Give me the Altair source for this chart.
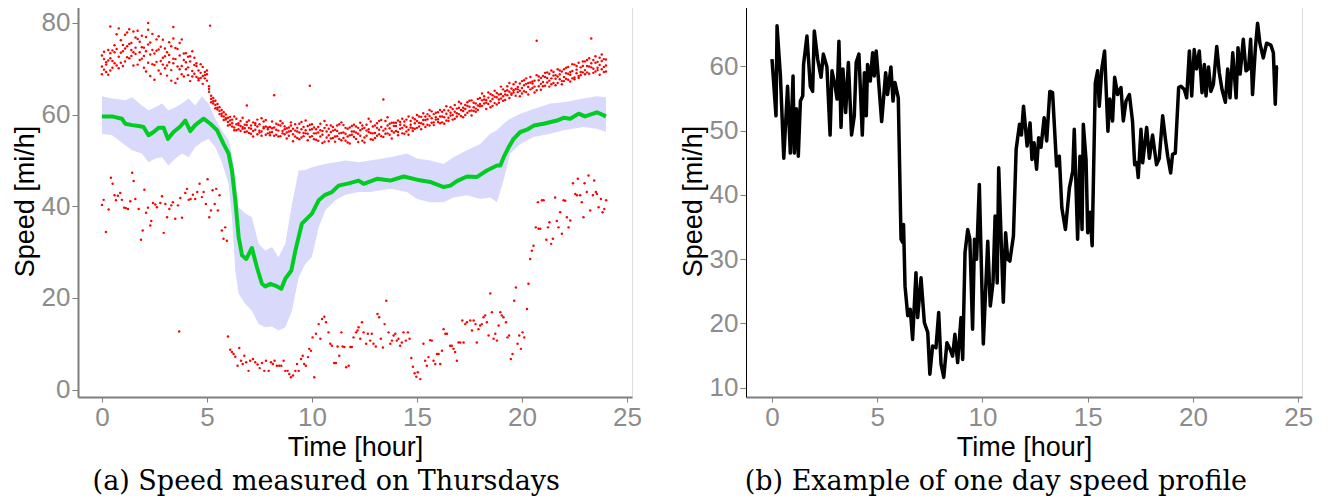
import altair as alt
import pandas as pd

# ---------------- Panel (a): mean speed, band, outliers ----------------
mean_time = [0.0,0.48,0.95,1.11,1.43,1.75,1.98,2.22,2.46,2.70,2.94,3.14,3.41,3.73,3.97,4.21,4.44,4.84,5.16,5.48,5.79,6.03,6.19,6.35,6.51,6.67,6.87,7.14,7.38,7.62,7.78,8.02,8.25,8.54,8.73,9.02,9.21,9.52,10.0,10.32,10.63,10.95,11.27,11.75,12.22,12.46,13.1,13.73,14.37,15.0,15.63,16.27,16.59,16.9,17.38,17.86,18.33,18.81,18.97,19.13,19.37,19.6,19.92,20.24,20.56,21.03,21.67,21.98,22.3,22.7,23.0,23.57,24.0]
mean_speed = [59.6,59.6,59.1,58.0,57.7,57.5,57.3,55.5,56.2,57.1,57.1,54.7,56.2,57.4,58.7,56.4,57.7,59.1,58.0,56.6,53.6,51.5,47.8,41.3,33.3,29.3,28.5,30.9,26.7,23.1,22.5,23.1,22.7,22.0,24.2,26.0,30.3,36.2,38.4,41.3,42.5,43.1,44.5,45.0,45.6,44.9,46.0,45.6,46.5,45.8,45.3,44.2,44.5,45.5,46.5,46.4,47.8,48.9,48.9,50.7,52.9,54.7,56.2,56.7,57.6,58.0,58.7,59.3,59.1,60.2,59.6,60.5,59.6]

band_time = [0.0,0.48,1.11,1.43,1.90,2.22,2.54,2.86,3.17,3.49,3.81,4.13,4.44,4.76,5.08,5.40,5.71,6.03,6.19,6.35,6.51,6.83,7.14,7.46,7.78,8.10,8.41,8.73,9.05,9.37,9.68,10.0,10.32,10.63,11.11,11.59,12.22,12.77,13.73,14.52,15.0,15.63,16.27,16.74,17.38,18.01,18.49,18.81,19.12,19.44,19.92,20.55,21.35,21.98,22.93,23.57,24.0]
band_high = [64.0,63.5,63.1,63.8,62.0,60.9,61.6,62.4,60.9,61.6,62.4,63.5,62.0,64.0,62.4,59.1,56.6,54.4,51.5,46.4,39.8,38.4,37.6,31.8,30.3,31.1,28.9,31.8,40.5,47.8,47.9,48.5,48.9,49.2,49.6,50.0,49.6,50.0,50.7,51.5,50.4,50.0,49.2,50.7,52.2,53.6,55.8,56.6,58.0,59.1,60.2,61.2,62.4,62.7,63.5,64.0,63.8]
band_low = [55.8,55.5,53.3,52.2,51.5,49.6,50.4,50.7,48.9,50.4,51.5,50.7,52.9,54.0,54.7,52.9,49.6,44.9,37.6,26.0,20.9,18.7,17.2,14.3,13.6,13.8,12.9,13.6,17.2,24.6,27.4,29.0,35.4,39.1,41.3,42.5,43.1,43.1,43.8,43.1,41.6,40.9,40.9,41.9,42.4,41.6,41.9,40.9,45.6,51.5,53.6,55.1,55.8,56.6,57.3,56.9,56.2]

# upper outliers, one value per 0.1 h in each of three rows
upper_time = [round(i * 0.1, 1) for i in range(241)]
upper_a = [70.5,72.1,69.3,71.8,73.4,70.2,75.1,74.3,72.6,76.2,
           73.8,77.4,74.9,72.3,75.6,78.1,73.2,76.5,71.9,74.7,
           72.8,69.4,75.3,73.1,77.6,70.8,71.5,74.2,68.9,72.4,
           70.1,73.6,75.8,69.7,71.2,74.5,67.8,72.9,70.6,73.3,
           71.4,68.6,72.7,69.5,70.8,68.2,67.5,69.1,68.4,67.9,
           68.8,65.6,63.4,62.9,62.1,61.5,60.8,60.2,59.6,58.9,
           58.4,57.8,58.9,57.2,56.6,58.1,57.5,56.9,57.8,56.3,
           57.1,55.8,58.3,56.7,57.4,56.1,59.2,57.0,55.6,56.8,
           57.3,56.2,55.4,58.0,56.5,57.6,55.9,56.8,54.8,57.2,
           56.4,55.7,57.9,54.9,56.1,58.4,55.3,56.6,57.5,55.1,
           56.8,54.6,55.9,57.3,55.2,56.4,54.1,57.7,55.5,56.2,
           54.9,56.7,55.3,57.9,54.4,56.1,55.8,53.9,57.2,55.6,
           56.3,54.7,57.1,55.4,56.9,55.0,57.8,56.2,54.6,57.4,
           56.0,58.1,55.7,57.3,56.5,58.6,55.9,57.0,56.4,58.2,
           57.5,56.2,58.4,57.1,55.8,58.9,56.7,57.8,59.3,56.9,
           58.6,57.4,59.5,57.9,58.8,60.1,57.6,59.2,58.3,60.4,
           59.0,58.1,60.6,59.4,58.7,60.9,59.8,61.2,59.1,60.3,
           61.5,59.7,60.8,62.1,60.4,61.7,60.9,62.6,61.3,62.0,
           61.8,63.1,62.4,61.2,63.7,62.9,64.2,62.5,63.8,63.3,
           64.5,63.0,65.1,64.2,63.6,65.7,64.8,64.1,66.0,65.2,
           65.8,66.4,64.9,66.9,65.5,67.2,66.1,65.3,67.5,66.7,
           67.1,66.3,68.0,67.4,66.6,68.5,67.8,66.9,68.8,67.3,
           68.2,69.0,67.6,68.7,69.5,68.1,69.8,68.4,70.3,69.2,
           69.7,70.6,68.9,71.2,70.0,69.4,71.5,70.8,69.9,72.1,
           70.7]
upper_b = [72.9,69.8,71.4,68.7,72.3,74.0,71.2,77.5,70.1,73.5,
           75.2,71.6,77.9,75.4,72.8,73.6,76.8,70.9,75.9,72.2,
           74.6,76.9,71.3,68.4,74.1,73.3,76.4,69.6,74.8,70.9,
           72.7,68.5,71.4,74.9,72.2,66.9,70.5,75.6,68.8,71.9,
           69.9,72.6,67.3,73.8,68.9,71.2,69.6,68.0,70.4,69.3,
           67.4,66.2,62.7,63.6,61.4,62.3,60.1,61.0,58.8,60.0,
           59.3,58.7,57.4,59.6,57.9,56.8,58.6,57.3,56.2,58.4,
           56.0,57.6,56.4,58.1,55.7,57.9,56.3,58.5,57.4,55.9,
           56.1,58.5,57.2,55.6,57.8,55.3,58.1,55.7,57.0,56.3,
           57.6,56.9,55.2,57.1,54.6,56.8,57.3,55.9,54.4,57.8,
           55.3,57.2,56.8,54.3,58.0,55.6,57.1,55.0,56.9,54.8,
           56.5,55.2,57.6,54.7,56.0,57.7,54.3,56.9,55.5,57.5,
           55.1,57.4,55.8,58.2,54.3,57.1,55.4,56.8,58.5,55.9,
           57.6,55.4,56.7,58.8,55.1,56.9,59.4,55.6,58.2,56.1,
           56.4,58.7,56.9,59.1,57.6,56.3,59.6,57.2,57.0,59.0,
           57.1,59.6,58.1,60.3,57.3,59.0,61.0,58.2,60.1,59.4,
           60.5,59.6,58.3,61.0,60.2,59.3,61.6,59.9,62.1,61.3,
           60.1,62.4,61.5,59.9,62.7,60.8,63.1,61.6,60.6,63.4,
           63.6,61.9,64.0,63.2,62.3,64.5,61.9,63.9,64.7,62.6,
           63.5,65.5,64.4,66.2,65.0,64.3,66.6,65.6,64.9,66.8,
           67.3,65.1,67.9,66.0,68.2,65.8,67.4,68.6,66.2,68.0,
           68.4,69.1,67.0,68.9,69.6,66.9,68.6,69.9,67.7,69.4,
           69.9,67.8,70.4,69.3,67.9,70.9,69.0,71.3,68.6,70.6,
           71.6,69.2,72.3,70.3,71.9,72.7,69.7,72.4,73.1,70.4,
           72.0]
upper_c = [68.8,73.7,70.9,74.1,69.6,71.7,73.6,70.7,78.8,71.3,
           70.6,74.4,72.5,78.6,74.1,70.7,74.6,78.3,73.6,77.2,
           70.2,73.8,78.5,75.7,71.0,67.6,73.9,77.1,71.7,76.3,
           74.4,70.7,73.0,67.4,76.6,72.1,74.3,69.9,76.4,68.3,
           73.4,70.3,71.6,68.3,72.4,70.6,67.9,71.0,66.7,68.6,
           69.6,65.0,64.1,62.4,63.0,61.1,61.6,59.7,60.5,59.2,
           57.6,59.5,58.1,56.6,59.1,57.7,56.4,59.3,57.0,57.7,
           58.7,56.9,55.2,57.7,58.9,56.5,55.4,57.3,58.8,57.2,
           55.5,57.0,64.2,56.7,55.2,58.6,56.4,57.4,56.1,55.4,
           58.3,54.2,56.5,56.3,58.0,55.0,56.0,58.7,55.8,56.7,
           57.9,55.9,54.5,56.1,56.6,53.8,58.6,56.3,54.2,57.6,
           57.3,54.1,56.4,55.9,58.3,54.9,57.1,55.2,53.7,56.3,
           57.8,56.1,54.0,56.6,57.6,53.9,56.5,59.1,56.0,54.5,
           54.9,57.1,58.6,55.3,63.3,55.8,57.6,58.0,54.8,57.5,
           58.2,55.5,57.8,55.9,58.5,57.3,55.6,58.6,56.4,58.1,
           59.9,58.2,56.8,58.8,59.6,57.8,59.7,60.7,57.7,58.9,
           58.4,61.0,59.6,58.0,61.8,58.6,60.4,58.9,60.6,59.6,
           62.8,61.0,59.4,61.2,61.9,63.0,59.8,60.8,62.4,61.0,
           62.3,64.6,63.3,62.6,64.8,61.6,63.4,65.2,62.2,64.4,
           66.1,64.0,63.2,65.3,66.9,64.6,65.3,67.1,65.5,64.0,
           64.6,67.5,66.7,64.4,67.0,66.8,64.8,76.1,68.3,65.4,
           66.2,68.2,69.2,66.1,67.9,69.3,66.4,68.3,69.6,66.6,
           67.3,70.2,68.9,67.2,71.0,67.7,70.6,68.0,69.3,71.6,
           68.8,71.9,70.5,76.6,69.1,71.3,70.2,68.7,71.7,69.3,
           69.4]
extra_time = [0.4, 2.2, 3.4, 5.15, 9.9, 6.9]
extra_speed = [79.2, 80.0, 79.1, 79.4, 66.3, 62.0]

lower_time = [0.00,0.08,0.19,0.32,0.43,0.51,0.60,0.67,0.76,0.87,0.95,1.06,1.14,1.24,1.35,1.44,1.51,1.59,1.75,1.86,1.94,2.02,2.10,2.19,2.30,2.35,2.43,2.54,2.62,2.78,2.86,2.94,3.02,3.10,3.21,3.30,3.38,3.49,3.62,3.68,3.73,3.81,3.97,4.05,4.13,4.22,4.33,4.44,4.54,4.65,4.76,4.84,4.95,5.03,5.11,5.19,5.27,5.37,5.44,5.52,5.60,5.71,5.79,5.87,5.95,
              6.00,6.11,6.19,6.27,6.35,6.46,6.54,6.62,6.70,6.78,6.87,6.98,7.06,7.19,7.30,7.41,7.51,7.62,7.73,7.81,7.94,8.05,8.14,8.22,8.33,8.44,8.54,8.65,8.73,8.84,8.92,9.00,9.10,9.21,9.29,9.37,9.48,9.56,9.63,9.71,9.81,9.87,9.95,10.03,10.11,10.19,10.32,10.40,10.48,10.59,10.67,10.79,10.87,10.95,11.06,11.14,11.22,11.30,11.40,11.46,11.54,11.63,11.75,11.83,11.90,11.98,12.10,12.17,
              12.22,12.30,12.38,12.46,12.58,12.66,12.77,12.85,12.93,13.04,13.12,13.20,13.28,13.38,13.46,13.54,13.65,13.73,13.81,13.89,13.97,14.04,14.12,14.20,14.28,14.36,14.47,14.57,14.65,14.73,14.81,14.89,14.97,15.04,15.16,15.31,15.39,15.47,15.55,15.63,15.71,15.79,15.87,15.95,16.03,16.11,16.19,16.27,16.35,16.43,16.58,16.66,16.74,16.82,16.90,16.98,17.06,17.16,17.22,17.30,17.38,17.54,17.62,17.70,17.79,17.85,17.93,18.01,18.09,18.17,18.25,18.33,18.41,18.49,18.57,18.65,18.73,18.81,18.89,18.97,19.04,19.12,19.24,19.31,19.39,19.47,19.55,19.63,19.71,19.79,19.87,19.95,20.03,20.11,20.24,20.31,20.39,20.47,20.55,20.66,20.76,20.79,20.87,20.95,21.03,21.16,21.24,21.31,21.39,21.47,21.58,21.66,21.74,21.82,21.90,21.98,22.06,22.14,22.22,22.30,22.43,22.54,22.62,22.66,22.77,22.85,22.93,22.98,23.09,23.17,23.25,23.38,23.44,23.52,23.57,23.65,23.76,23.84,23.92,24.01]
lower_speed = [40.3,41.4,34.4,39.3,46.2,44.9,42.4,41.3,42.3,42.9,41.4,39.7,39.6,39.4,41.1,47.3,45.5,41.6,39.4,32.7,34.7,43.6,38.6,39.7,35.8,36.8,40.7,40.4,39.8,40.7,42.2,34.2,40.5,37.6,39.4,40.2,40.9,37.3,40.2,12.7,41.8,37.5,42.9,43.8,41.4,41.6,42.5,41.6,43.1,44.9,42.0,43.1,40.5,45.9,37.6,39.1,43.5,40.5,43.8,39.1,42.4,34.7,32.9,35.4,32.5,
               11.6,8.7,8.2,7.8,7.2,5.2,9.1,6.3,5.6,7.4,6.0,4.1,6.3,6.7,6.0,5.5,4.7,5.8,4.1,6.3,4.1,6.0,5.6,6.3,5.2,5.2,5.2,6.3,4.1,4.1,3.4,2.7,3.1,4.1,5.6,4.1,6.7,7.4,5.6,5.2,7.1,8.9,8.5,11.4,2.7,12.2,14.3,11.1,15.4,15.9,14.7,12.5,10.0,9.6,5.8,5.8,9.4,7.4,12.5,9.4,9.3,4.9,5.2,9.3,9.3,11.4,12.5,12.9,
               13.6,11.1,14.7,12.5,10.0,12.2,10.7,12.2,10.0,9.4,16.5,15.8,11.1,9.2,14.3,19.4,12.5,10.0,10.7,11.8,12.2,10.7,11.1,9.6,10.3,12.5,10.7,12.5,11.1,6.9,5.0,3.6,2.8,3.8,2.3,10.0,6.3,5.2,7.1,10.8,10.7,6.3,5.6,7.8,7.8,5.6,8.5,13.2,12.2,12.2,9.6,9.6,8.9,8.2,6.3,10.3,10.3,15.1,10.3,14.3,14.7,15.1,12.9,15.1,14.3,10.3,13.2,14.0,14.3,15.8,16.2,14.7,11.8,21.0,16.9,11.1,12.2,10.7,14.0,16.9,16.2,15.8,14.7,11.4,11.8,6.7,7.8,19.4,22.3,10.0,11.8,8.9,12.5,11.4,17.6,23.1,28.5,30.3,31.4,35.4,40.9,35.1,35.1,41.3,41.3,32.7,35.4,36.5,31.8,32.9,41.9,36.8,35.4,38.7,34.0,41.3,41.2,37.6,35.4,36.9,45.0,42.7,42.4,46.0,42.4,40.9,37.6,45.0,43.1,46.7,39.1,42.4,45.6,43.1,42.7,39.8,41.6,38.7,39.4,41.3]

# ---------------- Panel (b): one day speed profile ----------------
profile_time = [0.0,0.19,0.24,0.40,0.56,0.74,0.87,1.0,1.06,1.16,1.25,1.35,1.46,1.50,1.66,1.82,1.93,2.01,2.17,2.33,2.44,2.61,2.76,2.85,3.0,3.09,3.18,3.28,3.37,3.5,3.63,3.78,3.91,4.0,4.13,4.29,4.39,4.48,4.54,4.67,4.78,4.86,4.95,5.05,5.21,5.40,5.49,5.65,5.75,5.84,6.0,6.13,6.21,6.25,6.32,6.45,6.57,6.68,6.84,6.92,7.08,7.24,7.40,7.5,7.63,7.79,7.92,8.03,8.16,8.31,8.47,8.58,8.69,8.82,8.98,9.06,9.17,9.30,9.40,9.53,9.62,9.72,9.85,10.04,10.25,10.37,10.5,10.6,10.7,10.77,10.99,11.1,11.2,11.3,11.47,11.6,11.76,11.85,11.95,12.12,12.26,12.35,12.45,12.57,12.67,12.78,12.93,13.05,13.2,13.33,13.52,13.65,13.77,13.94,14.13,14.29,14.36,14.52,14.63,14.73,14.79,14.92,15.0,15.11,15.21,15.36,15.47,15.55,15.67,15.8,15.96,16.05,16.18,16.28,16.42,16.58,16.69,16.82,16.98,17.13,17.23,17.33,17.4,17.53,17.61,17.8,17.93,18.08,18.27,18.4,18.56,18.69,18.8,18.94,19.03,19.16,19.32,19.43,19.59,19.7,19.83,19.94,20.06,20.17,20.3,20.43,20.54,20.62,20.74,20.85,20.97,21.13,21.25,21.38,21.54,21.65,21.76,21.89,22.05,22.14,22.24,22.39,22.52,22.64,22.74,22.83,22.96,23.07,23.18,23.34,23.5,23.7,23.82,23.91,23.97,24.04]
profile_speed = [61.1,52.3,66.3,58.5,45.7,56.9,46.5,58.5,46.5,53.4,46.0,54.6,55.4,60.3,64.7,56.9,56.1,65.5,61.1,58.3,61.9,59.9,49.3,59.3,56.9,54.9,63.9,50.5,59.6,52.8,60.6,49.3,52.3,60.6,61.9,49.3,59.0,52.3,60.3,57.7,62.1,58.5,62.4,58.3,51.4,59.0,55.6,59.9,54.6,57.5,55.1,33.1,32.6,35.4,25.8,21.2,22.2,17.5,27.9,20.9,27.1,20.1,18.6,12.1,16.5,16.2,21.7,13.7,11.6,17.0,15.9,14.9,18.3,13.9,20.9,14.4,31.0,34.6,33.1,19.1,33.1,30.0,41.6,16.8,32.8,22.7,26.3,36.7,26.3,44.2,23.3,34.1,30.0,29.7,33.6,47.1,51.0,49.3,53.8,47.6,51.2,45.5,48.1,44.0,48.9,47.4,52.0,48.4,56.1,55.9,44.5,46.0,38.0,34.6,41.1,43.7,50.2,33.1,46.0,34.6,51.0,45.5,34.1,37.3,32.1,57.4,59.3,53.8,59.6,62.4,49.9,54.9,51.5,58.3,55.6,56.7,51.5,54.6,55.6,51.4,44.7,45.0,42.7,50.2,45.0,50.5,45.7,49.3,44.7,45.7,52.3,48.7,46.0,43.4,46.3,46.5,56.7,56.9,56.4,55.1,62.4,55.4,62.6,59.6,62.4,55.9,60.3,55.4,59.9,56.1,57.2,63.1,59.0,56.4,54.4,59.6,55.1,62.1,55.1,62.9,58.8,64.2,59.3,59.6,64.2,55.6,62.6,66.7,63.6,61.3,63.6,63.3,62.1,54.1,59.9,59.9]

hour_ticks = [0, 5, 10, 15, 20, 25]

# ---------------- tables ----------------
mean_df = pd.DataFrame({"time": mean_time, "speed": mean_speed})
band_df = pd.DataFrame({"time": band_time, "low": band_low, "high": band_high})
dots_t = upper_time * 3 + extra_time + lower_time
dots_v = upper_a + upper_b + upper_c + extra_speed + lower_speed
dots_df = pd.DataFrame({"time": dots_t, "speed": dots_v})
profile_df = pd.DataFrame({"time": profile_time, "speed": profile_speed})

SANS = "Liberation Sans"
GRAY = "#7f7f7f"
LABEL = "#8c8c8c"


def x_axis():
    return alt.Axis(values=hour_ticks, grid=False, domainColor=GRAY, domainWidth=2,
                    tickColor=GRAY, tickWidth=1, tickSize=5, labelColor=LABEL,
                    labelFont=SANS, labelFontSize=26, labelPadding=2,
                    title="Time [hour]", titleFont=SANS, titleFontSize=27,
                    titleFontWeight="normal", titleColor="black", titlePadding=4)


def y_axis(values, dcolor, dwidth):
    return alt.Axis(values=values, grid=False, domainColor=dcolor, domainWidth=dwidth,
                    tickColor=GRAY, tickWidth=1, tickSize=6, labelColor=LABEL,
                    labelFont=SANS, labelFontSize=26, labelPadding=2,
                    title="Speed [mi/h]", titleFont=SANS, titleFontSize=27,
                    titleFontWeight="normal", titleColor="black", titlePadding=2)


xa = alt.X("time:Q", scale=alt.Scale(domain=[-1.14, 25.24], nice=False, zero=False), axis=x_axis())
ya_scale = alt.Scale(domain=[-1.6, 83.9], nice=False, zero=False)
ya = alt.Y("speed:Q", scale=ya_scale, axis=y_axis([0, 20, 40, 60, 80], GRAY, 2))

band = alt.Chart(band_df).mark_area(color="#d9d9fc", opacity=1).encode(
    x=xa, y=alt.Y("low:Q", scale=ya_scale, axis=y_axis([0, 20, 40, 60, 80], GRAY, 2)),
    y2="high:Q")
dots = alt.Chart(dots_df).mark_circle(color="#ff0000", size=6, opacity=1).encode(x=xa, y=ya)
mean_line = alt.Chart(mean_df).mark_line(color="#00cc22", strokeWidth=4, strokeJoin="round").encode(x=xa, y=ya)

caption_a = alt.TitleParams("(a) Speed measured on Thursdays", orient="bottom", anchor="middle",
                            frame="bounds", font="DejaVu Serif", fontSize=27, fontWeight="normal",
                            color="black", offset=9)
left = alt.layer(band, dots, mean_line).properties(width=554, height=392, title=caption_a)

xb = alt.X("time:Q", scale=alt.Scale(domain=[-1.235, 25.18], nice=False, zero=False), axis=x_axis())
yb = alt.Y("speed:Q", scale=alt.Scale(domain=[8.55, 69.54], nice=False, zero=False),
           axis=y_axis([10, 20, 30, 40, 50, 60], "black", 1))
profile = alt.Chart(profile_df).mark_line(color="black", strokeWidth=3.5, strokeJoin="round").encode(x=xb, y=yb)

caption_b = alt.TitleParams("(b) Example of one day speed profile", orient="bottom", anchor="middle",
                            frame="bounds", font="DejaVu Serif", fontSize=27, fontWeight="normal",
                            color="black", offset=9)
right = profile.properties(width=556, height=392, title=caption_b)

chart = alt.hconcat(left, right, spacing=36, padding={"left": 2, "top": -4, "right": 0, "bottom": 0}
                    ).configure_view(strokeWidth=0).configure(background="white")

chart.save("out.html", embed_options={"renderer": "svg", "actions": False})
